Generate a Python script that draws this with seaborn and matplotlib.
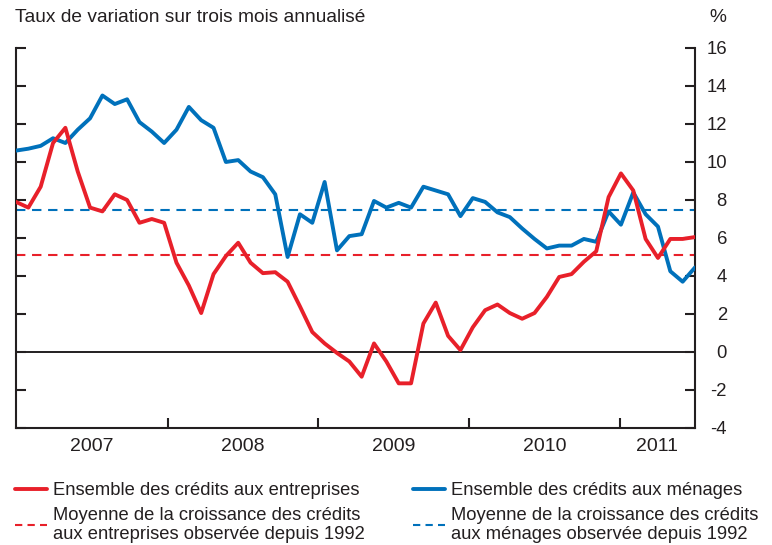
import numpy as np
import pandas as pd
import seaborn as sns
import matplotlib.pyplot as plt
from matplotlib.lines import Line2D

# Données (taux de variation sur trois mois annualisé, %)
entreprises = [7.9, 7.6, 8.7, 11.0, 11.8, 9.5, 7.6, 7.4, 8.3, 8.0, 6.8, 7.0,
               6.8, 4.7, 3.5, 2.05, 4.1, 5.05, 5.75, 4.7, 4.15, 4.2, 3.7, 2.4,
               1.05, 0.45, -0.05, -0.5, -1.3, 0.45, -0.5, -1.65, -1.65, 1.5, 2.6, 0.85,
               0.1, 1.3, 2.2, 2.5, 2.05, 1.75, 2.05, 2.9, 3.95, 4.1, 4.75, 5.3,
               8.15, 9.4, 8.5, 5.95, 4.95, 5.95, 5.95, 6.05]
menages = [10.6, 10.7, 10.85, 11.25, 11.0, 11.7, 12.3, 13.5, 13.05, 13.3, 12.1, 11.6,
           11.0, 11.7, 12.9, 12.2, 11.8, 10.0, 10.1, 9.5, 9.2, 8.3, 5.0, 7.25,
           6.8, 8.95, 5.35, 6.1, 6.2, 7.95, 7.6, 7.85, 7.6, 8.7, 8.5, 8.3,
           7.15, 8.1, 7.9, 7.35, 7.1, 6.5, 5.95, 5.45, 5.6, 5.6, 5.95, 5.8,
           7.4, 6.7, 8.4, 7.25, 6.6, 4.25, 3.7, 4.45]
moy_entreprises = 5.1
moy_menages = 7.5
annees = ['2007', '2008', '2009', '2010', '2011']
y_ticks = list(range(-4, 17, 2))

rouge = '#e8202a'
bleu = '#0071bb'
gris = '#231f20'

df = pd.DataFrame({'mois': np.arange(len(entreprises)),
                   'entreprises': entreprises,
                   'menages': menages})

sns.set_theme(style='white')
plt.rcParams['font.family'] = ['Liberation Sans', 'DejaVu Sans']
plt.rcParams['text.color'] = gris
plt.rcParams['xtick.color'] = gris
plt.rcParams['ytick.color'] = gris
plt.rcParams['xtick.labelcolor'] = gris
plt.rcParams['ytick.labelcolor'] = gris

fig = plt.figure(figsize=(7.72, 5.45), dpi=100)
ax = fig.add_axes([16 / 772, 1 - 428 / 545, (695 - 16) / 772, (428 - 48) / 545])

# moyennes depuis 1992
ax.axhline(moy_entreprises, color=rouge, lw=1.5, ls=(0, (4.5, 3.2)), zorder=2)
ax.axhline(moy_menages, color=bleu, lw=1.5, ls=(0, (4.5, 3.2)), zorder=2)
ax.axhline(0, color=gris, lw=1.4, zorder=2)

sns.lineplot(data=df, x='mois', y='menages', color=bleu, lw=2.8, ax=ax, zorder=3)
sns.lineplot(data=df, x='mois', y='entreprises', color=rouge, lw=2.8, ax=ax, zorder=4)

n = len(entreprises) - 1
ax.set_xlim(0, n)
ax.set_ylim(-4, 16)

bornes = [0, 12.3, 24.5, 36.7, 48.9, n]
ax.set_xticks(bornes[1:-1])
ax.set_xticklabels([])
centres = [(a + b) / 2 for a, b in zip(bornes[:-1], bornes[1:])]
ax.set_xticks(centres, minor=True)
ax.set_xticklabels(annees, minor=True)
ax.tick_params(axis='x', which='major', direction='in', length=7.5, width=1.5,
               bottom=True, top=False)
ax.tick_params(axis='x', which='minor', length=0, pad=7, labelsize=14)

ax.set_yticks(y_ticks)
ax.set_yticklabels([str(v) for v in y_ticks])
ax.tick_params(axis='y', direction='in', length=7.5, width=1.5, left=True, right=True,
               labelleft=False, labelright=True, pad=23, labelsize=13.3)
plt.setp(ax.get_yticklabels(), ha='right')

ax.set_xlabel('')
ax.set_ylabel('')
for side in ['left', 'right', 'bottom']:
    ax.spines[side].set_color(gris)
    ax.spines[side].set_linewidth(1.5)
ax.spines['top'].set_visible(False)

fig.text(15 / 772, 1 - 17 / 545, 'Taux de variation sur trois mois annualisé',
         fontsize=13.8, va='center', ha='left')
fig.text(718 / 772, 1 - 17 / 545, '%', fontsize=13.8, va='center', ha='center')

# légende en deux colonnes
h_ent = [Line2D([], [], color=rouge, lw=2.8),
         Line2D([], [], color=rouge, lw=1.5, ls=(0, (3.5, 2.5)))]
h_men = [Line2D([], [], color=bleu, lw=2.8),
         Line2D([], [], color=bleu, lw=1.5, ls=(0, (3.5, 2.5)))]
lab_ent = ['Ensemble des crédits aux entreprises',
           'Moyenne de la croissance des crédits\naux entreprises observée depuis 1992']
lab_men = ['Ensemble des crédits aux ménages',
           'Moyenne de la croissance des crédits\naux ménages observée depuis 1992']
kw = dict(loc='upper left', frameon=False, fontsize=13.2, borderpad=0, borderaxespad=0,
          handlelength=1.75, handletextpad=0.3, labelspacing=0.45)
for handles, labels, x0 in [(h_ent, lab_ent, 15), (h_men, lab_men, 413)]:
    leg = fig.legend(handles, labels, bbox_to_anchor=(x0 / 772, 1 - 482 / 545), **kw)
    for t in leg.get_texts():
        t.set_linespacing(1.15)

fig.savefig('out.png', dpi=100)
